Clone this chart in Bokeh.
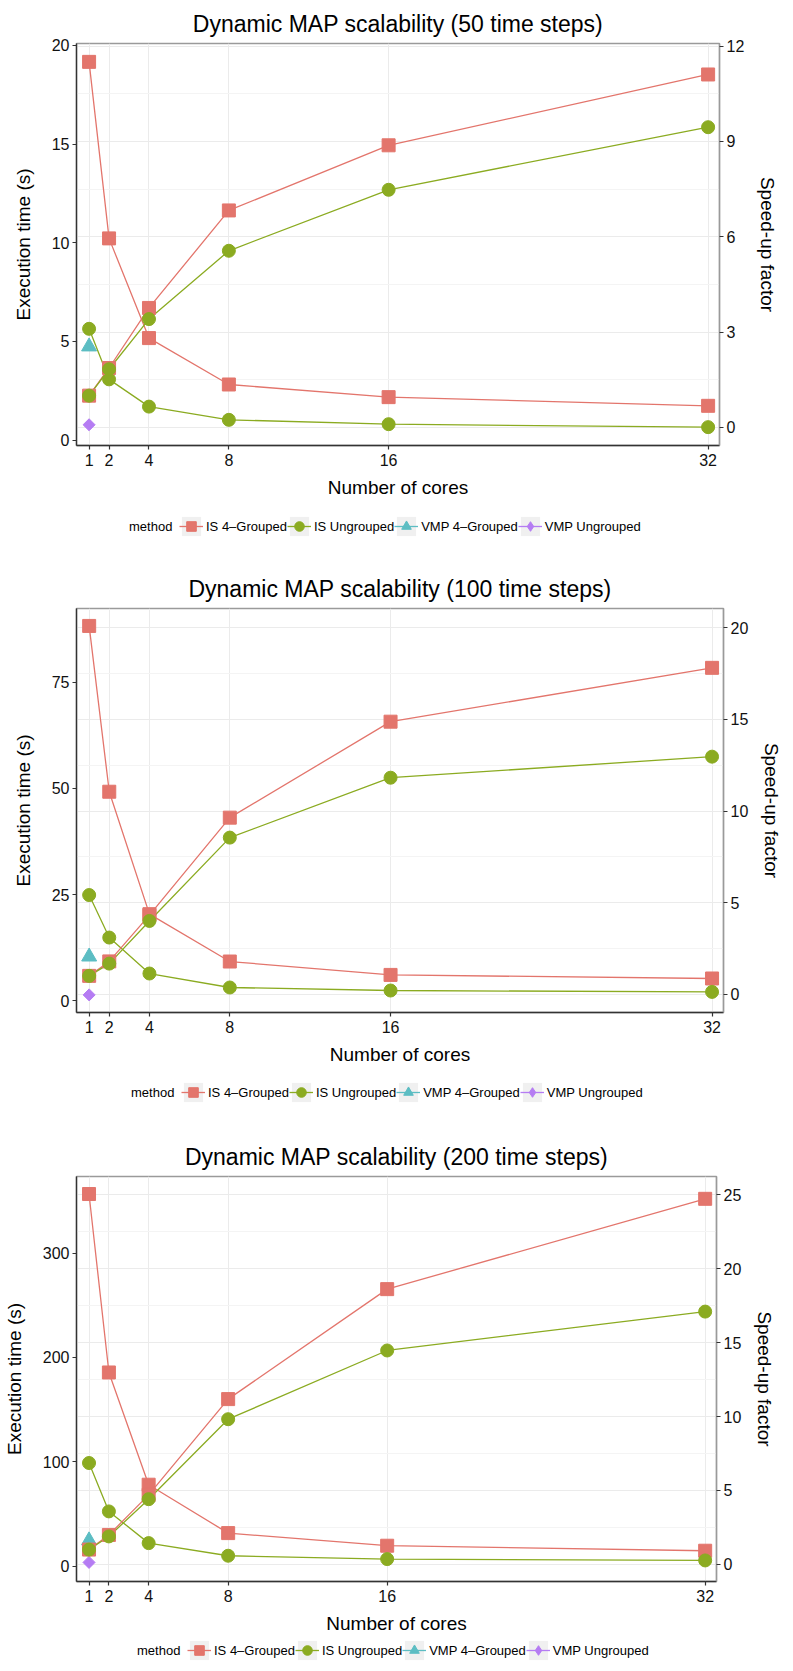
from bokeh.plotting import figure
from bokeh.models import Range1d, LinearAxis, FixedTicker, Legend, LegendItem
from bokeh.layouts import column
from bokeh.embed import file_html
from bokeh.resources import INLINE

FONT = "Liberation Sans"
RED, GREEN, TEAL, PURPLE = "#E3756C", "#8BAB21", "#5CBDC3", "#B57CF3"
NAN = float("nan")

cores = [1, 2, 4, 8, 16, 32]
vmp_cores = [1]
legend_title = "method"
method_labels = ["IS 4\u2013Grouped", "IS Ungrouped", "VMP 4\u2013Grouped", "VMP Ungrouped"]
titles = ["Dynamic MAP scalability (50 time steps)",
          "Dynamic MAP scalability (100 time steps)",
          "Dynamic MAP scalability (200 time steps)"]

# ---- 50 time steps: execution time (s) and speed-up factor
t50_is4 = [19.16, 10.22, 5.17, 2.82, 2.18, 1.74]
t50_isu = [5.64, 3.08, 1.70, 1.03, 0.81, 0.66]
t50_vmp4 = [4.74]
t50_vmpu = [0.78]
s50_is4 = [1.0, 1.87, 3.76, 6.83, 8.88, 11.11]
s50_isu = [1.0, 1.83, 3.41, 5.56, 7.48, 9.45]

# ---- 100 time steps
t100_is4 = [88.2, 49.2, 20.4, 9.26, 6.11, 5.27]
t100_isu = [24.9, 14.9, 6.44, 3.15, 2.44, 2.12]
t100_vmp4 = [10.4]
t100_vmpu = [1.41]
s100_is4 = [1.0, 1.79, 4.32, 9.64, 14.88, 17.82]
s100_isu = [1.0, 1.67, 4.0, 8.55, 11.82, 12.97]

# ---- 200 time steps
t200_is4 = [356.7, 185.6, 78.0, 31.6, 19.5, 14.7]
t200_isu = [98.8, 52.4, 22.0, 9.9, 6.7, 5.4]
t200_vmp4 = [24.5]
t200_vmpu = [3.5]
s200_is4 = [1.0, 1.99, 4.7, 11.18, 18.62, 24.73]
s200_isu = [1.0, 1.89, 4.41, 9.82, 14.47, 17.1]

# ticks
time_ticks = [[0, 5, 10, 15, 20], [0, 25, 50, 75], [0, 100, 200, 300]]
speed_ticks = [[0, 3, 6, 9, 12], [0, 5, 10, 15, 20], [0, 5, 10, 15, 20, 25]]
speed_minor = [[1.5, 4.5, 7.5, 10.5], [2.5, 7.5, 12.5, 17.5], [2.5, 7.5, 12.5, 17.5, 22.5]]

MARKERS = [dict(marker="square", size=13, angle=0.0),
           dict(marker="circle", size=13, angle=0.0),
           dict(marker="triangle", size=15, angle=0.0),
           dict(marker="square", size=8.5, angle=0.7854)]
LEGEND_MARKERS = ["square", "circle", "triangle", "diamond"]
COLORS = [RED, GREEN, TEAL, PURPLE]
LW = 1.3


def style_axis(ax, line_color, label_standoff, tick_standoff=3):
    ax.axis_line_color = line_color
    ax.axis_line_width = 1.4
    ax.major_tick_line_color = "#333333"
    ax.major_tick_line_width = 1.2
    ax.major_tick_out = 4
    ax.major_tick_in = 0
    ax.minor_tick_line_color = None
    ax.major_label_text_font = FONT
    ax.major_label_text_font_size = "16px"
    ax.major_label_text_color = "#111111"
    ax.major_label_standoff = tick_standoff
    ax.axis_label_text_font = FONT
    ax.axis_label_text_font_size = "19px"
    ax.axis_label_text_font_style = "normal"
    ax.axis_label_text_color = "#000000"
    ax.axis_label_standoff = label_standoff


def make_panel(title, t_is4, t_isu, t_vmp4, t_vmpu, s_is4, s_isu,
               t_ticks, s_ticks, s_minor, t_lim, s_lim, b_left, f_w, b_right, f_h):
    p = figure(title=title, x_range=Range1d(0.37, 32.57), y_range=Range1d(*s_lim),
               extra_y_ranges={"time": Range1d(*t_lim)}, y_axis_location="right",
               frame_width=f_w, frame_height=f_h,
               min_border_left=b_left, min_border_right=b_right,
               min_border_top=43, min_border_bottom=55,
               output_backend="svg", toolbar_location=None)
    p.background_fill_color = "white"
    p.border_fill_color = "white"
    p.outline_line_color = "#9A9A9A"
    p.outline_line_width = 1.4

    p.title.text_font = FONT
    p.title.text_font_size = "23px"
    p.title.text_font_style = "normal"
    p.title.text_color = "#000000"
    p.title.align = "center"
    p.title.standoff = 14

    p.xaxis.ticker = FixedTicker(ticks=cores)
    p.xaxis.axis_label = "Number of cores"
    style_axis(p.xaxis[0], "#333333", 8, 4)

    p.yaxis.ticker = FixedTicker(ticks=s_ticks)
    p.yaxis.axis_label = "Speed-up factor"
    style_axis(p.yaxis[0], "#9A9A9A", 10)

    left = LinearAxis(y_range_name="time", axis_label="Execution time (s)",
                      ticker=FixedTicker(ticks=t_ticks))
    style_axis(left, "#333333", 15)
    p.add_layout(left, "left")

    # grid lines follow the speed-up axis
    p.ygrid.ticker = FixedTicker(ticks=s_ticks, minor_ticks=s_minor)
    p.ygrid.grid_line_color = "#EBEBEB"
    p.ygrid.minor_grid_line_color = "#F4F4F4"
    p.xgrid.ticker = FixedTicker(ticks=cores)
    p.xgrid.grid_line_color = "#EBEBEB"

    # execution time (left axis)
    xs = [cores, cores, vmp_cores, vmp_cores]
    ts = [t_is4, t_isu, t_vmp4, t_vmpu]
    for x, y, c in zip(xs, ts, COLORS):
        p.line(x, y, color=c, line_width=LW, y_range_name="time")
    for x, y, c, mk in zip(xs, ts, COLORS, MARKERS):
        p.scatter(x, y, color=c, y_range_name="time", **mk)
    # speed-up factor (right axis)
    for y, c in zip([s_is4, s_isu], COLORS[:2]):
        p.line(cores, y, color=c, line_width=LW)
    for y, c, mk in zip([s_is4, s_isu], COLORS[:2], MARKERS[:2]):
        p.scatter(cores, y, color=c, **mk)
    return p


def make_legend(height, legend_x, legend_y):
    lp = figure(frame_width=777, frame_height=height,
                x_range=Range1d(0, 1), y_range=Range1d(0, 1),
                x_axis_type=None, y_axis_type=None,
                min_border_left=0, min_border_right=0, min_border_top=0, min_border_bottom=0,
                output_backend="svg", toolbar_location=None)
    lp.outline_line_color = None
    lp.background_fill_color = "white"
    lp.border_fill_color = "white"
    lp.grid.visible = False
    # legend-key renderers (no visible data: they only provide the legend glyphs)
    bg = lp.quad(left=[NAN], right=[NAN], top=[NAN], bottom=[NAN],
                 fill_color="#F0F0F0", line_color=None)
    items = [LegendItem(label=legend_title, renderers=[])]
    for lab, c, mk in zip(method_labels, COLORS, LEGEND_MARKERS):
        ln = lp.line([NAN], [NAN], color=c, line_width=LW)
        sc = lp.scatter([NAN], [NAN], color=c, marker=mk)
        items.append(LegendItem(label=lab, renderers=[bg, ln, sc]))
    legend = Legend(items=items, orientation="horizontal", location=(legend_x, legend_y),
                    glyph_width=24, glyph_height=24, label_height=24, label_width=50,
                    label_standoff=3, spacing=0, padding=0, margin=0,
                    border_line_color=None, background_fill_alpha=0,
                    label_text_font=FONT, label_text_font_size="13px",
                    label_text_color="#000000")
    lp.add_layout(legend)
    return lp


p1 = make_panel(titles[0], t50_is4, t50_isu, t50_vmp4, t50_vmpu, s50_is4, s50_isu,
                time_ticks[0], speed_ticks[0], speed_minor[0], (-0.27, 20.09), (-0.57, 12.085),
                64, 643, 70, 402)
g1 = make_legend(65, 102, 27)
p2 = make_panel(titles[1], t100_is4, t100_isu, t100_vmp4, t100_vmpu, s100_is4, s100_isu,
                time_ticks[1], speed_ticks[1], speed_minor[1], (-2.73, 92.3), (-1.0, 21.06),
                63, 647, 67, 404)
g2 = make_legend(66, 104, 29)
p3 = make_panel(titles[2], t200_is4, t200_isu, t200_vmp4, t200_vmpu, s200_is4, s200_isu,
                time_ticks[2], speed_ticks[2], speed_minor[2], (-14.8, 373.5), (-1.16, 26.24),
                74, 640, 63, 405)
g3 = make_legend(29, 110, 3)

layout = column(p1, g1, p2, g2, p3, g3, spacing=0)
open("out.html", "w").write(file_html(layout, INLINE))
